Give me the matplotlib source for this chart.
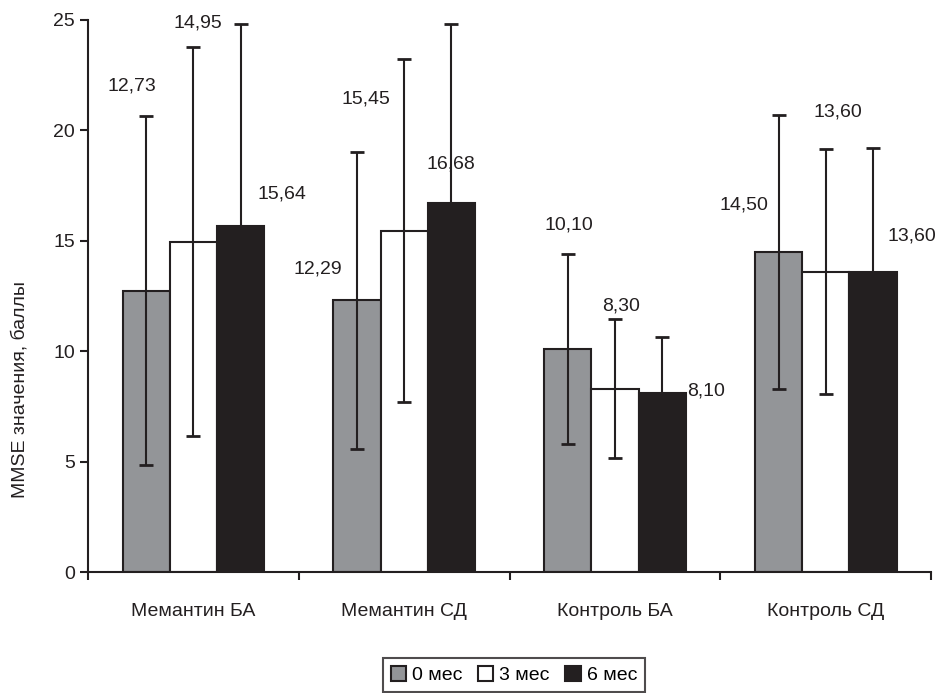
import numpy as np
import matplotlib
matplotlib.use("Agg")
import matplotlib.pyplot as plt

plt.rcParams['font.family'] = ['Liberation Sans', 'DejaVu Sans']

groups = ['Мемантин БА', 'Мемантин СД', 'Контроль БА', 'Контроль СД']
series = ['0 мес', '3 мес', '6 мес']
means = [
    [12.73, 12.29, 10.10, 14.50],   # 0 mes
    [14.95, 15.45, 8.30, 13.60],    # 3 mes
    [15.64, 16.68, 8.10, 13.60],    # 6 mes
]
sds = [
    [7.9, 6.7, 4.3, 6.2],
    [8.8, 7.75, 3.15, 5.55],
    [9.18, 8.14, 2.54, 5.6],
]
value_labels = [
    ['12,73', '12,29', '10,10', '14,50'],
    ['14,95', '15,45', '8,30', '13,60'],
    ['15,64', '16,68', '8,10', '13,60'],
]
# where the labels sit (manual placement like in the original)
label_x = [
    [-0.29, 0.59, 1.78, 2.61],
    [0.02, 0.82, 2.03, 3.06],
    [0.42, 1.22, 2.43, 3.41],
]
label_y = [
    [22.0, 13.7, 15.7, 16.6],
    [24.85, 21.4, 12.05, 20.8],
    [17.1, 18.45, 8.2, 15.2],
]

colors = ['#939598', '#ffffff', '#231f20']
edge = '#231f20'
fs = 14

fig = plt.figure(figsize=(9.41, 6.93), dpi=100)
ax = fig.add_axes([0.0935, 0.1746, 0.896, 0.797])

x = np.arange(len(groups))
w = 0.224
for j in range(3):
    pos = x + (j - 1) * w
    ax.bar(pos, means[j], w, color=colors[j], edgecolor=edge, linewidth=1.5,
           label=series[j], zorder=2)
    ax.errorbar(pos, means[j], yerr=sds[j], fmt='none', ecolor=edge,
                elinewidth=1.5, capsize=5, capthick=2, zorder=3)
    for i in range(len(groups)):
        ax.text(label_x[j][i], label_y[j][i], value_labels[j][i],
                ha='center', va='center', fontsize=fs, color='#231f20')

ax.set_xlim(-0.5, 3.5)
ax.set_ylim(0, 25)
ax.set_yticks([0, 5, 10, 15, 20, 25])
ax.tick_params(axis='y', labelsize=fs, length=6, width=1.5, colors='#231f20')
ax.set_xticks(x)
ax.set_xticklabels(groups, fontsize=fs)
ax.tick_params(axis='x', length=0, pad=22, colors='#231f20')
ax.set_xticks(np.arange(-0.5, 4, 1), minor=True)
ax.tick_params(axis='x', which='minor', length=6, width=1.5, color='#231f20')
for s in ['top', 'right']:
    ax.spines[s].set_visible(False)
for s in ['left', 'bottom']:
    ax.spines[s].set_linewidth(1.5)
    ax.spines[s].set_color('#231f20')
ax.set_ylabel('MMSE значения, баллы', fontsize=14, color='#231f20')
ax.yaxis.set_label_coords(-0.071, 0.33)

leg = fig.legend(loc='upper center', bbox_to_anchor=(0.546, 0.064), ncol=3,
                 fontsize=fs, frameon=True, fancybox=False, edgecolor='#231f20',
                 handlelength=0.8, handleheight=0.8, handletextpad=0.3,
                 columnspacing=0.8, borderpad=0.4)
leg.get_frame().set_linewidth(1.5)

fig.savefig('out.png', dpi=100)
